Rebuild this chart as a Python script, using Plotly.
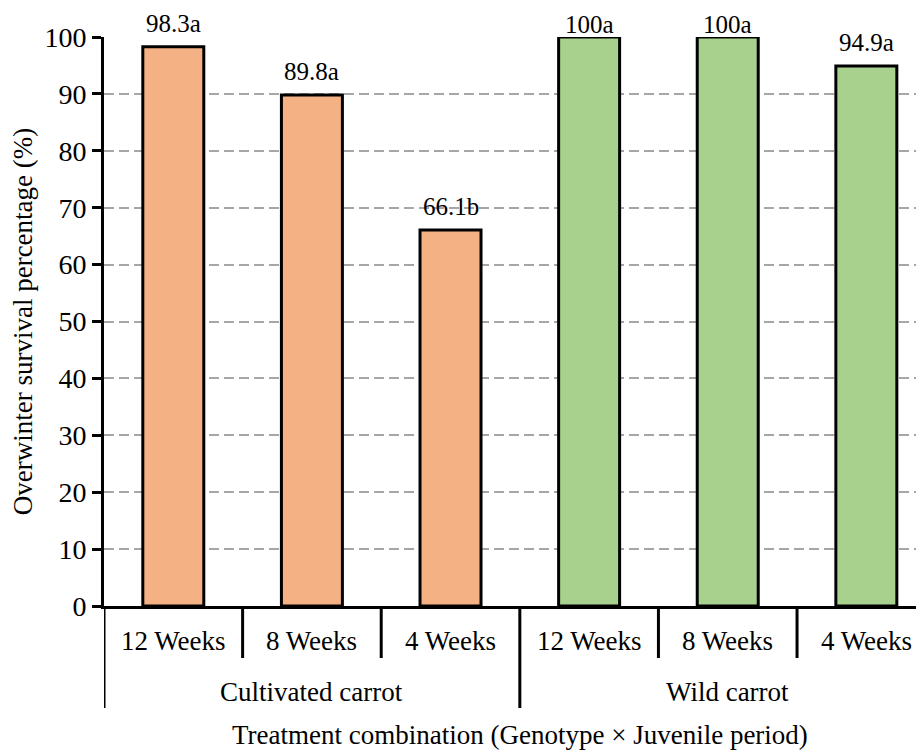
import plotly.graph_objects as go

# data
genotypes = ["Cultivated carrot", "Wild carrot"]
periods = ["12 Weeks", "8 Weeks", "4 Weeks"]
survival = [98.3, 89.8, 66.1, 100, 100, 94.9]
letters = ["a", "a", "b", "a", "a", "a"]
bar_colors = ["#F4B183", "#A9D18E"]

FONT = "Liberation Serif"
FS = 27
H_PLOT = 569  # plot area height in px (for paper-coord offsets)

xs = list(range(len(survival)))
cols = [bar_colors[i // 3] for i in xs]
fig = go.Figure(go.Bar(
    x=xs, y=survival, width=0.44,
    marker=dict(color=cols, line=dict(color="black", width=3)),
))

# value labels above bars (full-height bars get their label tucked closer)
for x, v, l in zip(xs, survival, letters):
    fig.add_annotation(x=x, y=v, text=f"{v:g}{l}", showarrow=False,
                       yanchor="bottom", yshift=-2 if v >= 100 else 9,
                       borderpad=0, font=dict(size=25, color="black"))

# hand-drawn two level category axis
def py(px):
    return -px / H_PLOT

shapes = []
for b in [-0.5, 0.5, 1.5, 2.5, 3.5, 4.5]:
    depth = 102 if b in (-0.5, 2.5) else 52
    shapes.append(dict(type="line", xref="x", yref="paper", x0=b, x1=b,
                       y0=0, y1=py(depth), line=dict(color="black", width=3)))
for i, x in enumerate(xs):
    fig.add_annotation(x=x, y=py(35), yref="paper", text=periods[i % 3], showarrow=False,
                       yanchor="middle", font=dict(size=FS, color="black"))
for g, name in enumerate(genotypes):
    fig.add_annotation(x=g * 3 + 1, y=py(86), yref="paper", text=name, showarrow=False,
                       yanchor="middle", font=dict(size=FS, color="black"))
fig.add_annotation(x=(520 - 104) / 820, xref="paper", y=py(129), yref="paper",
                   text="Treatment combination (Genotype × Juvenile period)",
                   showarrow=False, yanchor="middle", font=dict(size=FS, color="black"))
fig.update_layout(shapes=shapes)

# page has an 8px body margin, so the figure is shifted by 8px
fig.update_layout(
    width=916, height=744,
    margin=dict(l=96, r=0, t=29, b=146),
    plot_bgcolor="white", paper_bgcolor="white",
    font=dict(family=FONT, size=FS, color="black"),
    showlegend=False,
    xaxis=dict(range=[-0.5, 5.416], showticklabels=False, ticks="", showgrid=False,
               showline=True, linecolor="black", linewidth=3, zeroline=False),
    yaxis=dict(range=[0, 100], dtick=10, ticks="outside", ticklen=9, tickwidth=3,
               tickcolor="black", showline=True, linecolor="black", linewidth=3,
               showgrid=True, gridcolor="#A6A6A6", gridwidth=1.5, griddash="10px,5px",
               zeroline=False, tickfont=dict(size=28),
               title=dict(text="Overwinter survival percentage (%)", standoff=10,
                          font=dict(size=FS))),
)

fig.write_html("out.html")
